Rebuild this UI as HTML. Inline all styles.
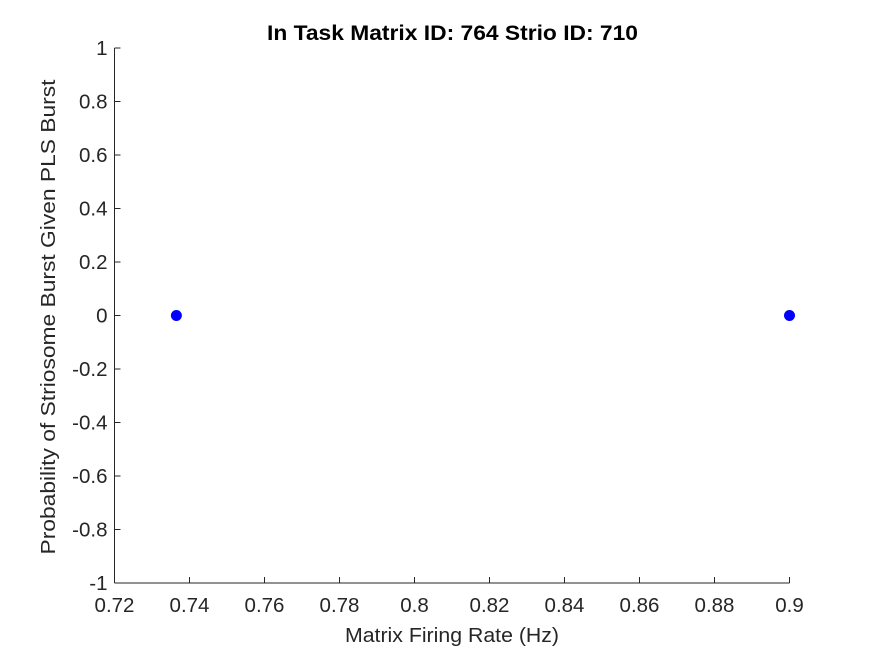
<!DOCTYPE html>
<html><head><meta charset="utf-8"><style>
body{margin:0;background:#fff;}
svg text{font-family:"Liberation Sans",Arial,sans-serif;fill:#262626;}
</style></head><body>
<svg width="875" height="656" xmlns="http://www.w3.org/2000/svg">
<rect width="875" height="656" fill="#fff"/>
<g id="axes"></g>
<text x="452.5" y="40" text-anchor="middle" font-size="21" font-weight="bold" textLength="371" lengthAdjust="spacingAndGlyphs" style="fill:#000">In Task Matrix ID: 764 Strio ID: 710</text>
<text x="452" y="642" text-anchor="middle" font-size="20" textLength="214" lengthAdjust="spacingAndGlyphs">Matrix Firing Rate (Hz)</text>
<text transform="translate(55,317) rotate(-90)" text-anchor="middle" font-size="20" textLength="475" lengthAdjust="spacingAndGlyphs">Probability of Striosome Burst Given PLS Burst</text>
</svg>
<script>
const xTicks=[0.72,0.74,0.76,0.78,0.8,0.82,0.84,0.86,0.88,0.9];
const xTickLabels=["0.72","0.74","0.76","0.78","0.8","0.82","0.84","0.86","0.88","0.9"];
const yTicks=[-1,-0.8,-0.6,-0.4,-0.2,0,0.2,0.4,0.6,0.8,1];
const yTickLabels=["-1","-0.8","-0.6","-0.4","-0.2","0","0.2","0.4","0.6","0.8","1"];
const xValues=[0.7365,0.9];
const yValues=[0,0];
const L=114.5,R=789.5,T=48,B=583;
const sx=v=>L+(v-0.72)/(0.9-0.72)*(R-L);
const sy=v=>B-(v+1)/2*(B-T);
const NS="http://www.w3.org/2000/svg";
const g=document.getElementById('axes');
function mk(t,a){const e=document.createElementNS(NS,t);for(const k in a)e.setAttribute(k,a[k]);g.appendChild(e);return e;}
let ax=mk('line',{x1:L,y1:B,x2:R,y2:B,stroke:'#262626'});


let ay=mk('line',{x1:L,y1:B,x2:L,y2:T,stroke:'#262626'});


xTicks.forEach((v,i)=>{const x=sx(v);
 let t=mk('line',{x1:x,y1:B,x2:x,y2:B-6,stroke:'#262626'});
 
 
 let l=mk('text',{x:x,y:B+29,'text-anchor':'middle','font-size':'20.5'});l.textContent=xTickLabels[i];
 
 
});
yTicks.forEach((v,i)=>{const y=sy(v);
 let t=mk('line',{x1:L,y1:y,x2:L+6,y2:y,stroke:'#262626'});
 
 
 let l=mk('text',{x:L-7,y:y+7,'text-anchor':'end','font-size':'20.5'});l.textContent=yTickLabels[i];
 
 
});
xValues.forEach((v,i)=>{
 let c=mk('circle',{cx:sx(v),cy:sy(yValues[i]),r:5.5,fill:'#0000ff'});
 
 
});
</script>
</body></html>
